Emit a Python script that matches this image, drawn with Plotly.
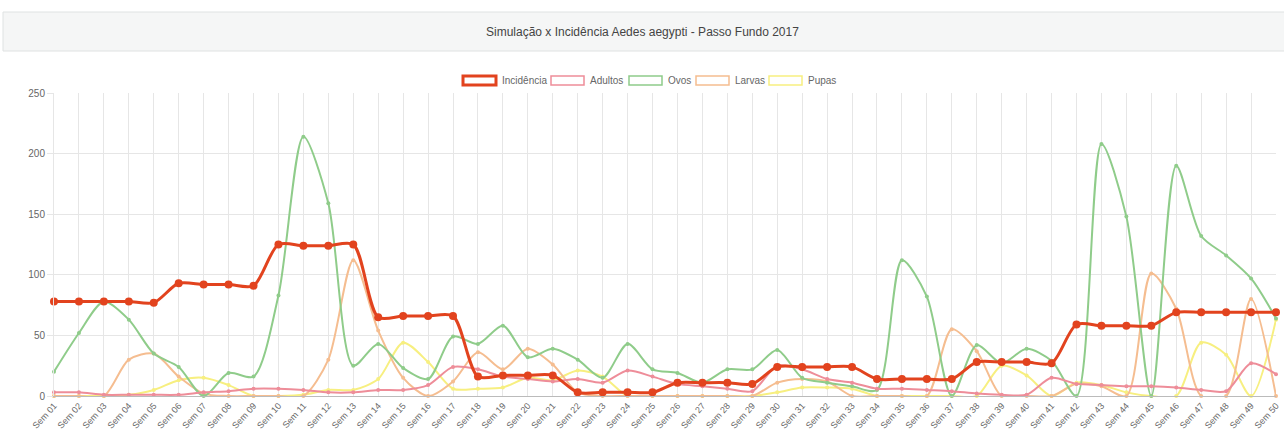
import plotly.graph_objects as go

# semanas epidemiologicas
semanas = [f"Sem {i:02d}" for i in range(1, 51)]

incidencia = [78, 78, 78, 78, 77, 93, 92, 92, 91, 125, 124, 124, 125,
              65, 66, 66, 66, 16, 17, 17, 17, 3, 3, 3, 3, 11, 11, 11, 10,
              24, 24, 24, 24, 14, 14, 14, 14, 28, 28, 28, 27, 59, 58, 58, 58,
              69, 69, 69, 69, 69]

adultos = [3, 3, 1, 1, 1, 1, 3, 4, 6, 6, 5, 3, 3, 5, 5, 9, 24, 22, 16, 14,
           12, 14, 11, 21, 16, 10, 8, 6, 4, 25, 22, 14, 11, 6, 6, 5, 4, 2, 1, 1,
           15, 10, 9, 8, 8, 7, 5, 4, 27, 18]

ovos = [20, 52, 78, 63, 35, 24, 0, 19, 16, 83, 214, 159, 25, 43, 23, 14, 49,
        43, 58, 32, 39, 30, 15, 43, 22, 19, 11, 22, 22, 38, 15, 11, 8, 5, 112,
        82, 0, 42, 27, 39, 29, 0, 208, 148, 0, 190, 132, 116, 97, 64]

larvas = [0, 0, 0, 30, 35, 16, 2, 0, 0, 0, 0, 30, 112, 54, 15, 0, 12, 36, 22,
          39, 26, 3, 0, 0, 0, 0, 0, 0, 0, 11, 14, 12, 0, 0, 0, 0, 55, 37, 0, 0,
          0, 10, 8, 0, 101, 72, 0, 0, 80, 0]

pupas = [0, 0, 0, 1, 5, 13, 15, 9, 0, 0, 1, 5, 5, 14, 44, 28, 6, 6, 7, 15,
         13, 21, 16, 0, 0, 0, 0, 0, 0, 3, 7, 7, 6, 0, 0, 0, 0, 0, 25, 17, 0,
         11, 9, 3, 0, 0, 44, 34, 0, 63]

series = [
    ("Incidência", incidencia, "#e2431e"),
    ("Adultos", adultos, "#ee8d99"),
    ("Ovos", ovos, "#8fcc8a"),
    ("Larvas", larvas, "#f5bd90"),
    ("Pupas", pupas, "#f7ef80"),
]

# plot area in pixels (1284 x 430 page)
L, R, T, B = 54, 1276, 93, 396


def px(x):
    return (x - L) / (R - L)


def py(y):
    return (B - y) / (B - T)


fig = go.Figure()

# chart.js draws the first dataset on top, so add them reversed
for name, vals, color in reversed(series):
    main = name == "Incidência"
    fig.add_trace(go.Scatter(
        x=semanas,
        y=vals,
        name=name,
        mode="lines+markers",
        line=dict(color=color, width=3 if main else 2, shape="spline", smoothing=0.8),
        marker=dict(color=color, size=8 if main else 4),
        cliponaxis=False,
        showlegend=False,
    ))

# card header with the title
fig.add_shape(type="rect", xref="paper", yref="paper",
              x0=px(3), x1=px(1290), y0=py(51), y1=py(12),
              fillcolor="#f5f6f6", line=dict(color="#dfe2e2", width=1), layer="below")
fig.add_annotation(xref="paper", yref="paper", x=px(642), y=py(32),
                   text="Simulação x Incidência Aedes aegypti - Passo Fundo 2017",
                   showarrow=False, yanchor="middle",
                   font=dict(size=12, color="#444"))

# legend drawn as chart.js style boxes
box_left = [463, 551, 629, 696, 769]
for (name, vals, color), x0 in zip(series, box_left):
    main = name == "Incidência"
    fig.add_shape(type="rect", xref="paper", yref="paper",
                  x0=px(x0), x1=px(x0 + 33), y0=py(85), y1=py(76),
                  fillcolor="white", line=dict(color=color, width=3 if main else 1.5))
    fig.add_annotation(xref="paper", yref="paper", x=px(x0 + 37), y=py(80.5),
                       text=name, showarrow=False, xanchor="left", yanchor="middle",
                       font=dict(size=10, color="#666"))

fig.update_xaxes(
    range=[0, 49],
    showgrid=True, gridcolor="#e6e6e6",
    showline=True, linecolor="#bbb",
    ticks="", ticklabelstandoff=0,
    tickangle=-48, tickfont=dict(size=9, color="#666"),
    automargin=False,
)
fig.update_yaxes(
    range=[0, 250], dtick=50,
    showgrid=True, gridcolor="#e6e6e6",
    zeroline=True, zerolinecolor="#bbb", zerolinewidth=1,
    showline=True, linecolor="#e6e6e6",
    ticks="outside", ticklen=6, tickcolor="#e6e6e6",
    tickfont=dict(size=10, color="#666"),
    automargin=False,
)

fig.update_layout(
    width=1284, height=430,
    margin=dict(l=L, r=1284 - R, t=T, b=430 - B),
    plot_bgcolor="white", paper_bgcolor="white",
    font=dict(family="Liberation Sans, Arial, sans-serif"),
)

fig.write_html("out.html", config={"displayModeBar": False},
               post_script="document.body.style.margin='0';")
